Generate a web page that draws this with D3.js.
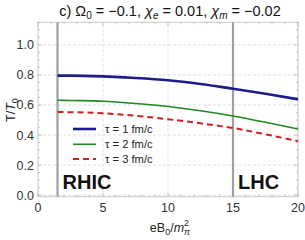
<!DOCTYPE html>
<html>
<head>
<meta charset="utf-8">
<script src="https://cdn.jsdelivr.net/npm/d3@7"></script>
<style>
  body { margin: 0; background: #fff; }
  text { font-family: "Liberation Sans", Arial, sans-serif; }
</style>
</head>
<body>
<script>
// magnetic field values (eB0/m_pi^2)
const fieldValues = [1.5, 2.5, 5, 7.5, 10, 12.5, 15, 17.5, 20];
// T/T0 for each proper time
const tau1 = [0.795, 0.795, 0.790, 0.780, 0.765, 0.740, 0.708, 0.675, 0.638];
const tau2 = [0.632, 0.630, 0.625, 0.610, 0.590, 0.562, 0.527, 0.485, 0.440];
const tau3 = [0.553, 0.552, 0.545, 0.528, 0.505, 0.478, 0.447, 0.405, 0.360];
const seriesNames = ["τ = 1 fm/c", "τ = 2 fm/c", "τ = 3 fm/c"];
const xTicks = [0, 5, 10, 15, 20];
const yTicks = [0, 0.2, 0.4, 0.6, 0.8, 1.0];
const markers = [{ x: 1.5, label: "RHIC" }, { x: 15, label: "LHC" }];

const W = 305, H = 240;
const margin = { left: 38, right: 7, top: 22.3, bottom: 43.3 };

const svg = d3.select("body").append("svg")
  .attr("width", W).attr("height", H);

const x = d3.scaleLinear().domain([0, 20]).range([margin.left, W - margin.right]);
const y = d3.scaleLinear().domain([-0.01, 1.15]).range([H - margin.bottom, margin.top]);

// grid
svg.append("g").selectAll("line").data(xTicks.slice(1)).join("line")
  .attr("x1", d => x(d)).attr("x2", d => x(d))
  .attr("y1", y.range()[0]).attr("y2", y.range()[1])
  .attr("stroke", "#d8d8d8").attr("stroke-dasharray", "3,2").attr("stroke-width", 0.8);
svg.append("g").selectAll("line").data(yTicks).join("line")
  .attr("x1", x.range()[0]).attr("x2", x.range()[1])
  .attr("y1", d => y(d)).attr("y2", d => y(d))
  .attr("stroke", "#d8d8d8").attr("stroke-dasharray", "3,2").attr("stroke-width", 0.8);

// frame
svg.append("rect")
  .attr("x", x.range()[0]).attr("y", y.range()[1])
  .attr("width", x.range()[1] - x.range()[0])
  .attr("height", y.range()[0] - y.range()[1])
  .attr("fill", "none").attr("stroke", "#c8c8c8").attr("stroke-width", 1);

// minor ticks
const xMinor = d3.range(0, 20.01, 1);
const yMinor = d3.range(0, 1.151, 0.05);
const ticks = svg.append("g").attr("stroke", "#bbb").attr("stroke-width", 0.8);
xMinor.forEach(v => {
  const len = v % 5 === 0 ? 4 : 2;
  ticks.append("line").attr("x1", x(v)).attr("x2", x(v))
    .attr("y1", y.range()[0]).attr("y2", y.range()[0] - len);
  ticks.append("line").attr("x1", x(v)).attr("x2", x(v))
    .attr("y1", y.range()[1]).attr("y2", y.range()[1] + len);
});
yMinor.forEach((v, i) => {
  const len = i % 4 === 0 ? 4 : 2;
  ticks.append("line").attr("y1", y(v)).attr("y2", y(v))
    .attr("x1", x.range()[0]).attr("x2", x.range()[0] + len);
  ticks.append("line").attr("y1", y(v)).attr("y2", y(v))
    .attr("x1", x.range()[1]).attr("x2", x.range()[1] - len);
});

// tick labels
svg.append("g").selectAll("text").data(xTicks).join("text")
  .attr("x", d => x(d)).attr("y", y.range()[0] + 15)
  .attr("text-anchor", "middle").attr("font-size", 12.5).attr("fill", "#333")
  .text(d => d);
svg.append("g").selectAll("text").data(yTicks).join("text")
  .attr("x", x.range()[0] - 4).attr("y", d => y(d) + 4.5)
  .attr("text-anchor", "end").attr("font-size", 12.5).attr("fill", "#333")
  .text(d => d.toFixed(1));

// RHIC / LHC markers
markers.forEach(m => {
  svg.append("line")
    .attr("x1", x(m.x)).attr("x2", x(m.x))
    .attr("y1", y.range()[0]).attr("y2", y.range()[1])
    .attr("stroke", "#a0a0a0").attr("stroke-width", 2.2);
  svg.append("text")
    .attr("x", x(m.x) + 5).attr("y", 189)
    .attr("font-size", 20).attr("font-weight", "bold").attr("fill", "#111")
    .text(m.label);
});

// curves
const series = [
  { vals: tau1, color: "#1c1c8c", width: 2.6, dash: null },
  { vals: tau2, color: "#1b8a1b", width: 1.6, dash: null },
  { vals: tau3, color: "#cc2020", width: 2, dash: "6,4" }
];
const line = d3.line()
  .x((d, i) => x(fieldValues[i]))
  .y(d => y(d))
  .curve(d3.curveMonotoneX);
series.forEach(s => {
  svg.append("path").datum(s.vals)
    .attr("d", line)
    .attr("fill", "none").attr("stroke", s.color)
    .attr("stroke-width", s.width)
    .attr("stroke-dasharray", s.dash);
});

// legend
const legY = [129, 144.3, 159];
series.forEach((s, i) => {
  svg.append("line")
    .attr("x1", 73).attr("x2", 96).attr("y1", legY[i]).attr("y2", legY[i])
    .attr("stroke", s.color).attr("stroke-width", s.width)
    .attr("stroke-dasharray", s.dash);
  svg.append("text")
    .attr("x", 105).attr("y", legY[i] + 4)
    .attr("font-size", 11.2).attr("fill", "#222")
    .text(seriesNames[i]);
});

// title
const title = svg.append("text")
  .attr("x", 170).attr("y", 16).attr("text-anchor", "middle")
  .attr("font-size", 14.5).attr("fill", "#111");
title.append("tspan").text("c) Ω");
title.append("tspan").attr("font-size", 10).attr("dy", 3).text("0");
title.append("tspan").attr("dy", -3).text(" = −0.1, ");
title.append("tspan").attr("font-style", "italic").text("χ");
title.append("tspan").attr("font-size", 10).attr("dy", 3).attr("font-style", "italic").text("e");
title.append("tspan").attr("dy", -3).text(" = 0.01, ");
title.append("tspan").attr("font-style", "italic").text("χ");
title.append("tspan").attr("font-size", 10).attr("dy", 3).attr("font-style", "italic").text("m");
title.append("tspan").attr("dy", -3).text(" = −0.02");

// axis labels
const xl = svg.append("text")
  .attr("x", 170).attr("y", 232).attr("text-anchor", "middle")
  .attr("font-size", 12.5).attr("fill", "#222");
xl.append("tspan").text("eB");
xl.append("tspan").attr("font-size", 9).attr("dy", 3).text("0");
xl.append("tspan").attr("dy", -3).text("/");
xl.append("tspan").attr("font-style", "italic").text("m");
xl.append("tspan").attr("font-size", 9).attr("dy", -6).text("2");
xl.append("tspan").attr("font-size", 9).attr("dx", -5).attr("dy", 9).attr("font-style", "italic").text("π");

const yl = svg.append("text")
  .attr("transform", "translate(15,110) rotate(-90)")
  .attr("text-anchor", "middle").attr("font-size", 12.5).attr("fill", "#222");
yl.append("tspan").text("T/");
yl.append("tspan").attr("font-style", "italic").text("T");
yl.append("tspan").attr("font-size", 9).attr("dy", 3).text("0");
</script>
</body>
</html>
